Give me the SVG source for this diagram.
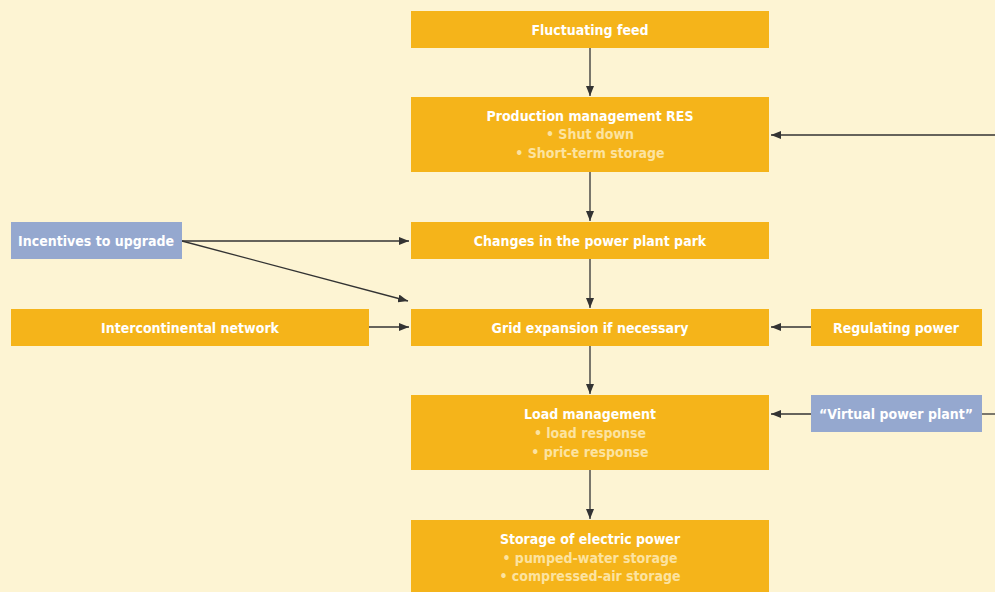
<svg xmlns="http://www.w3.org/2000/svg" width="995" height="592" viewBox="0 0 995 592">
<style>
.bg{fill:#FDF4D3}
.o{fill:#F5B41A}
.b{fill:#95A8CF}
.t{font-family:"DejaVu Sans Condensed","Liberation Sans",sans-serif;font-weight:bold;font-size:14px;fill:#FFFFFF;text-anchor:middle}
.s{fill:#FCE3A0}
.c{stroke:#333333;stroke-width:1.3;fill:none}
</style>
<defs>
<marker id="ah" viewBox="0 0 10 8" refX="10" refY="4" markerWidth="10" markerHeight="8" markerUnits="userSpaceOnUse" orient="auto">
<path d="M0,0 L10,4 L0,8 Z" fill="#333333"/>
</marker>
</defs>
<rect class="bg" x="0" y="0" width="995" height="592"/>
<g id="connectors">
<line class="c" x1="590" y1="48" x2="590" y2="96" marker-end="url(#ah)"/>
<line class="c" x1="590" y1="172" x2="590" y2="221" marker-end="url(#ah)"/>
<line class="c" x1="590" y1="259" x2="590" y2="308" marker-end="url(#ah)"/>
<line class="c" x1="590" y1="346" x2="590" y2="394" marker-end="url(#ah)"/>
<line class="c" x1="590" y1="470" x2="590" y2="519" marker-end="url(#ah)"/>
<line class="c" x1="995" y1="135" x2="771" y2="135" marker-end="url(#ah)"/>
<line class="c" x1="182" y1="241" x2="409" y2="241" marker-end="url(#ah)"/>
<line class="c" x1="182" y1="241" x2="408" y2="301" marker-end="url(#ah)"/>
<line class="c" x1="369" y1="327" x2="409" y2="327" marker-end="url(#ah)"/>
<line class="c" x1="811" y1="327" x2="771" y2="327" marker-end="url(#ah)"/>
<line class="c" x1="811" y1="414" x2="771" y2="414" marker-end="url(#ah)"/>
<line class="c" x1="982" y1="414" x2="995" y2="414"/>
</g>
<g id="fluctuating-feed">
<rect class="o" x="411" y="11" width="358" height="37"/>
<text class="t" x="590" y="35">Fluctuating feed</text>
</g>
<g id="production-management">
<rect class="o" x="411" y="97" width="358" height="75"/>
<text class="t" x="590" y="121">Production management RES</text>
<text class="t s" x="590" y="139">• Shut down</text>
<text class="t s" x="590" y="158">• Short-term storage</text>
</g>
<g id="changes-power-plant-park">
<rect class="o" x="411" y="222" width="358" height="37"/>
<text class="t" x="590" y="246">Changes in the power plant park</text>
</g>
<g id="incentives">
<rect class="b" x="11" y="222" width="171" height="37"/>
<text class="t" x="96" y="246">Incentives to upgrade</text>
</g>
<g id="grid-expansion">
<rect class="o" x="411" y="309" width="358" height="37"/>
<text class="t" x="590" y="333">Grid expansion if necessary</text>
</g>
<g id="intercontinental">
<rect class="o" x="11" y="309" width="358" height="37"/>
<text class="t" x="190" y="333">Intercontinental network</text>
</g>
<g id="regulating-power">
<rect class="o" x="811" y="309" width="171" height="37"/>
<text class="t" x="896" y="333">Regulating power</text>
</g>
<g id="load-management">
<rect class="o" x="411" y="395" width="358" height="75"/>
<text class="t" x="590" y="419">Load management</text>
<text class="t s" x="590" y="438">• load response</text>
<text class="t s" x="590" y="457">• price response</text>
</g>
<g id="virtual-power-plant">
<rect class="b" x="811" y="395" width="171" height="37"/>
<text class="t" x="896" y="419">“Virtual power plant”</text>
</g>
<g id="storage">
<rect class="o" x="411" y="520" width="358" height="75"/>
<text class="t" x="590" y="544">Storage of electric power</text>
<text class="t s" x="590" y="563">• pumped-water storage</text>
<text class="t s" x="590" y="581">• compressed-air storage</text>
</g>
</svg>
